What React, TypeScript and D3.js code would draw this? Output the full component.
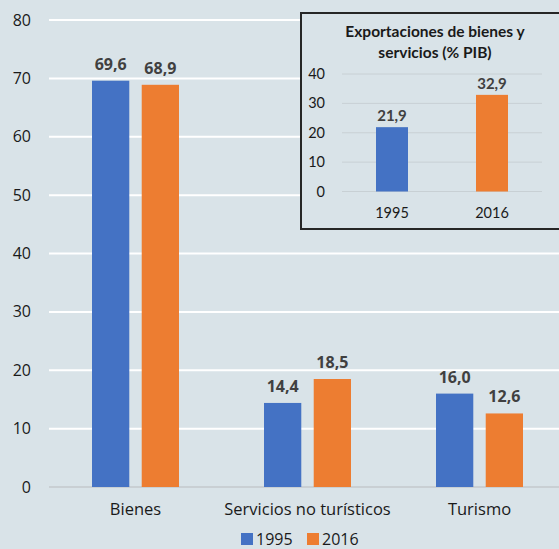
import React from "react";
import * as d3 from "d3";

const categories = ["Bienes", "Servicios no turísticos", "Turismo"];
const seriesNames = ["1995", "2016"];
const values1995 = [69.6, 14.4, 16.0];
const values2016 = [68.9, 18.5, 12.6];
const yTicks = [0, 10, 20, 30, 40, 50, 60, 70, 80];

const insetYears = ["1995", "2016"];
const insetValues = [21.9, 32.9];
const insetTicks = [0, 10, 20, 30, 40];
const insetTitle = ["Exportaciones de bienes y", "servicios (% PIB)"];

const colors = ["#4472C4", "#ED7D31"];
const bg = "#d9e3e8";
const W = 559, H = 549;
const fmt = (v: number) => v.toFixed(1).replace(".", ",");

export default function App() {
  const x = d3.scaleBand<string>().domain(categories).range([49.5, 565.5]);
  const y = d3.scaleLinear().domain([0, 80]).range([487, 20]);
  const inner = d3.scaleBand<string>().domain(seriesNames).range([-43.5, 43.5]).paddingInner(0.25);
  const series = [values1995, values2016];

  const ix = d3.scaleBand<string>().domain(insetYears).range([342, 542]);
  const iy = d3.scaleLinear().domain([0, 40]).range([191.5, 74]);
  const ibw = 32;

  const mainFont = "'Open Sans', 'Noto Sans', sans-serif";
  const insetFont = "Lato, 'Open Sans', sans-serif";

  return (
    <svg width={W} height={H} style={{ position: "absolute", left: 0, top: 0 }}>
      <rect x={0} y={0} width={W} height={H} fill={bg} />
      {yTicks.map((t) => (
        <g key={t}>
          <line x1={49} x2={W} y1={y(t)} y2={y(t)} stroke={t === 0 ? "#c9cfd3" : "#ffffff"} strokeWidth={2} />
          <text x={31} y={y(t)} dy="0.35em" textAnchor="end" fontFamily={mainFont} fontSize={16} fill="#1a1a1a">
            {t}
          </text>
        </g>
      ))}
      {categories.map((c, ci) => (
        <g key={c}>
          {series.map((vals, si) => {
            const bx = (x(c) as number) + x.bandwidth() / 2 + (inner(seriesNames[si]) as number);
            const bw = inner.bandwidth();
            return (
              <g key={si}>
                <rect x={bx} y={y(vals[ci])} width={bw} height={y(0) - y(vals[ci])} fill={colors[si]} />
                <text x={bx + bw / 2} y={y(vals[ci]) - 11} textAnchor="middle" fontFamily={mainFont} fontWeight={700} fontSize={16} fill="#404040">
                  {fmt(vals[ci])}
                </text>
              </g>
            );
          })}
          <text x={(x(c) as number) + x.bandwidth() / 2} y={515} textAnchor="middle" fontFamily={mainFont} fontSize={16.5} fill="#1a1a1a">
            {c}
          </text>
        </g>
      ))}
      {/* legend */}
      {seriesNames.map((s, i) => {
        const lx = 241 + i * 66;
        return (
          <g key={s}>
            <rect x={lx} y={533} width={12} height={12} fill={colors[i]} />
            <text x={lx + 15} y={545} fontFamily={mainFont} fontSize={16} fill="#1a1a1a">
              {s}
            </text>
          </g>
        );
      })}
      {/* inset */}
      <rect x={301} y={13} width={W - 301 + 5} height={216} fill={bg} stroke="#262626" strokeWidth={2} />
      {insetTitle.map((l, i) => (
        <text key={i} x={435} y={37 + i * 21} textAnchor="middle" fontFamily={insetFont} fontWeight={700} fontSize={15.5} fill="#1a1a1a">
          {l}
        </text>
      ))}
      {insetTicks.map((t) => (
        <g key={t}>
          <line x1={342} x2={542} y1={iy(t)} y2={iy(t)} stroke="#c8d0d4" strokeWidth={1} />
          <text x={325} y={iy(t)} dy="0.35em" textAnchor="end" fontFamily={insetFont} fontSize={14.5} fill="#1a1a1a">
            {t}
          </text>
        </g>
      ))}
      {insetYears.map((yr, i) => {
        const cx = (ix(yr) as number) + ix.bandwidth() / 2;
        return (
          <g key={yr}>
            <rect x={cx - ibw / 2} y={iy(insetValues[i])} width={ibw} height={iy(0) - iy(insetValues[i])} fill={colors[i]} />
            <text x={cx} y={iy(insetValues[i]) - 6} textAnchor="middle" fontFamily={insetFont} fontWeight={700} fontSize={15} fill="#404040">
              {fmt(insetValues[i])}
            </text>
            <text x={cx} y={218} textAnchor="middle" fontFamily={insetFont} fontSize={14.5} fill="#1a1a1a">
              {yr}
            </text>
          </g>
        );
      })}
    </svg>
  );
}
